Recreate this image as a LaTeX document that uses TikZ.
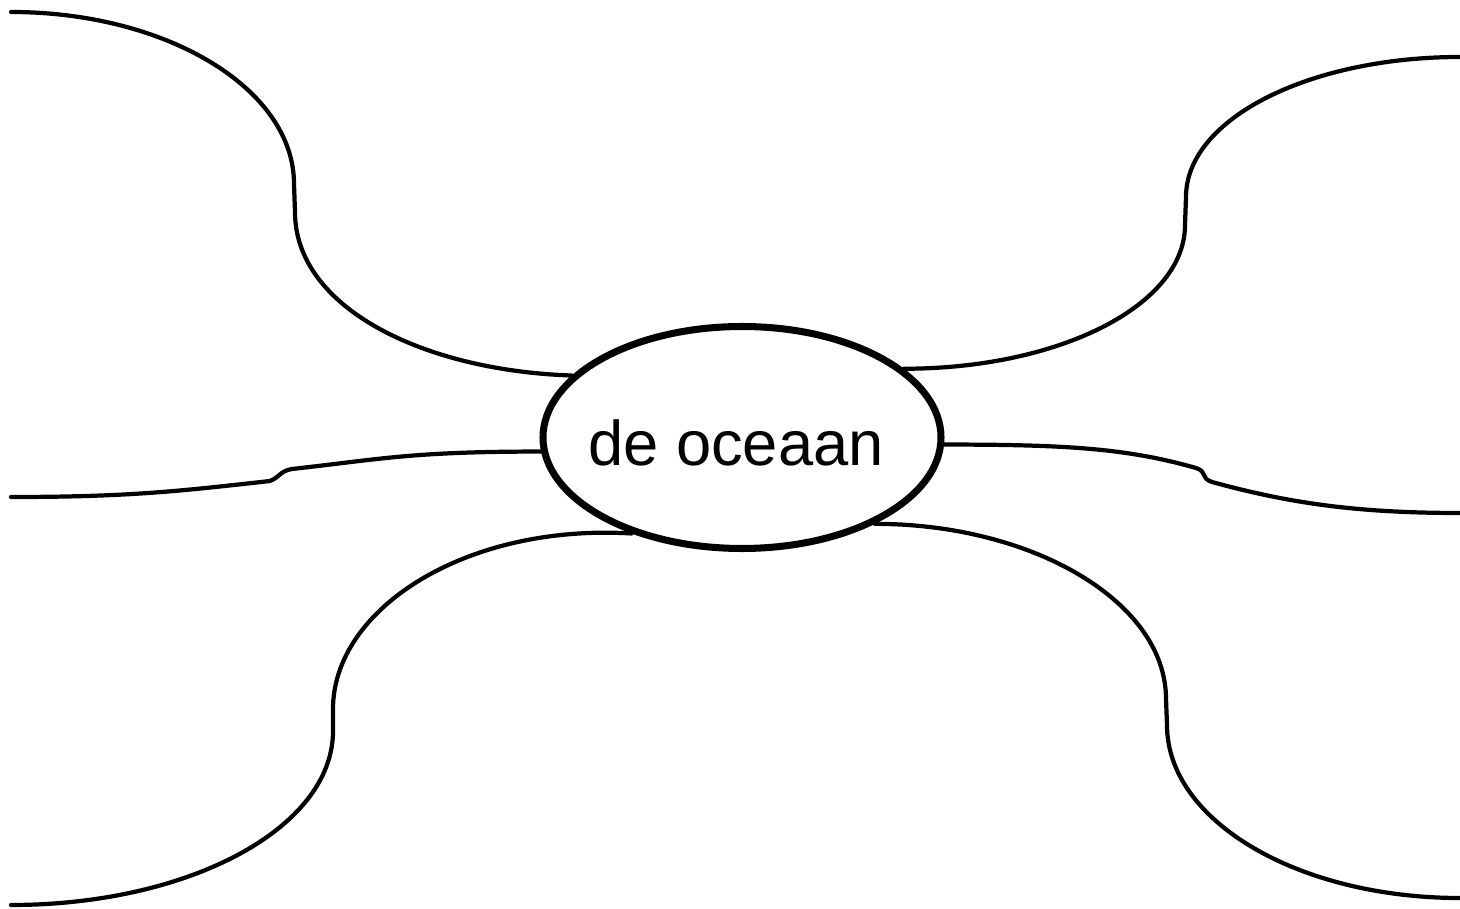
\documentclass[tikz,border=0pt]{standalone}
\usepackage{fontspec}
\setmainfont{Liberation Sans}
\usepackage{tikz}
\usetikzlibrary{shapes.geometric}

\begin{document}
\begin{tikzpicture}[
    line cap = round,
    branch/.style={draw, line width=1.2pt},
    bubble/.style={ellipse, draw, line width=2pt, inner sep=0pt,
                   minimum width=3.98cm, minimum height=2.22cm}
]
\useasboundingbox (0,0) rectangle (14.6,9.09);

% Centre
\node[bubble, label={[xshift=-0.06cm, yshift=-0.05cm, font=\fontsize{18}{20}\selectfont]center:de oceaan}] (ocean) at (7.42,4.715) {};

% Kinks and free ends
\coordinate (ul-low) at (2.95,6.97);
\coordinate (ul-high) at (2.94,7.25);
\coordinate (ul-end) at (0.11,8.97);
\coordinate (ur-low) at (11.85,6.84);
\coordinate (ur-high) at (11.86,7.12);
\coordinate (ur-end) at (14.6,8.52);
\coordinate (ml-high) at (2.92,4.40);
\coordinate (ml-low) at (2.70,4.28);
\coordinate (ml-end) at (0.11,4.12);
\coordinate (mr-high) at (11.96,4.41);
\coordinate (mr-low) at (12.12,4.27);
\coordinate (mr-end) at (14.6,3.96);
\coordinate (ll-high) at (3.33,2.00);
\coordinate (ll-low) at (3.33,1.78);
\coordinate (ll-end) at (0.11,0.04);
\coordinate (lr-high) at (11.66,2.10);
\coordinate (lr-low) at (11.67,1.84);
\coordinate (lr-end) at (14.6,0.11);

% Branches to the left
\path[branch]
    (ocean.160) .. controls +(-1.5,0.05) and +(0,-0.95) .. (ul-low) -- (ul-high)
    .. controls +(0,0.95) and +(1.56,0) .. (ul-end);
\path[branch]
    (ocean.184) .. controls +(-1.3,0) and +(0.9,0.1) .. (ml-high)
    .. controls +(-0.12,-0.02) and +(0.1,0.04) .. (ml-low)
    .. controls +(-0.9,-0.1) and +(1.2,0) .. (ml-end);
\path[branch]
    (ocean.221) .. controls +(-1.66,0.1) and +(0,1.0) .. (ll-high) -- (ll-low)
    .. controls +(0,-0.97) and +(1.78,0) .. (ll-end);

% Branches to the right
\path[branch]
    (ocean.23) .. controls +(1.56,0) and +(0,-0.8) .. (ur-low) -- (ur-high)
    .. controls +(0,0.78) and +(-1.51,0) .. (ur-end);
\path[branch]
    (ocean.358) .. controls +(1.2,0) and +(-0.7,0.2) .. (mr-high)
    .. controls +(0.12,-0.04) and +(-0.12,0.04) .. (mr-low)
    .. controls +(0.8,-0.22) and +(-1.0,0) .. (mr-end);
\path[branch]
    (ocean.-33) .. controls +(1.58,0) and +(0,0.97) .. (lr-high) -- (lr-low)
    .. controls +(0,-0.96) and +(-1.62,0) .. (lr-end);

\end{tikzpicture}
\end{document}
